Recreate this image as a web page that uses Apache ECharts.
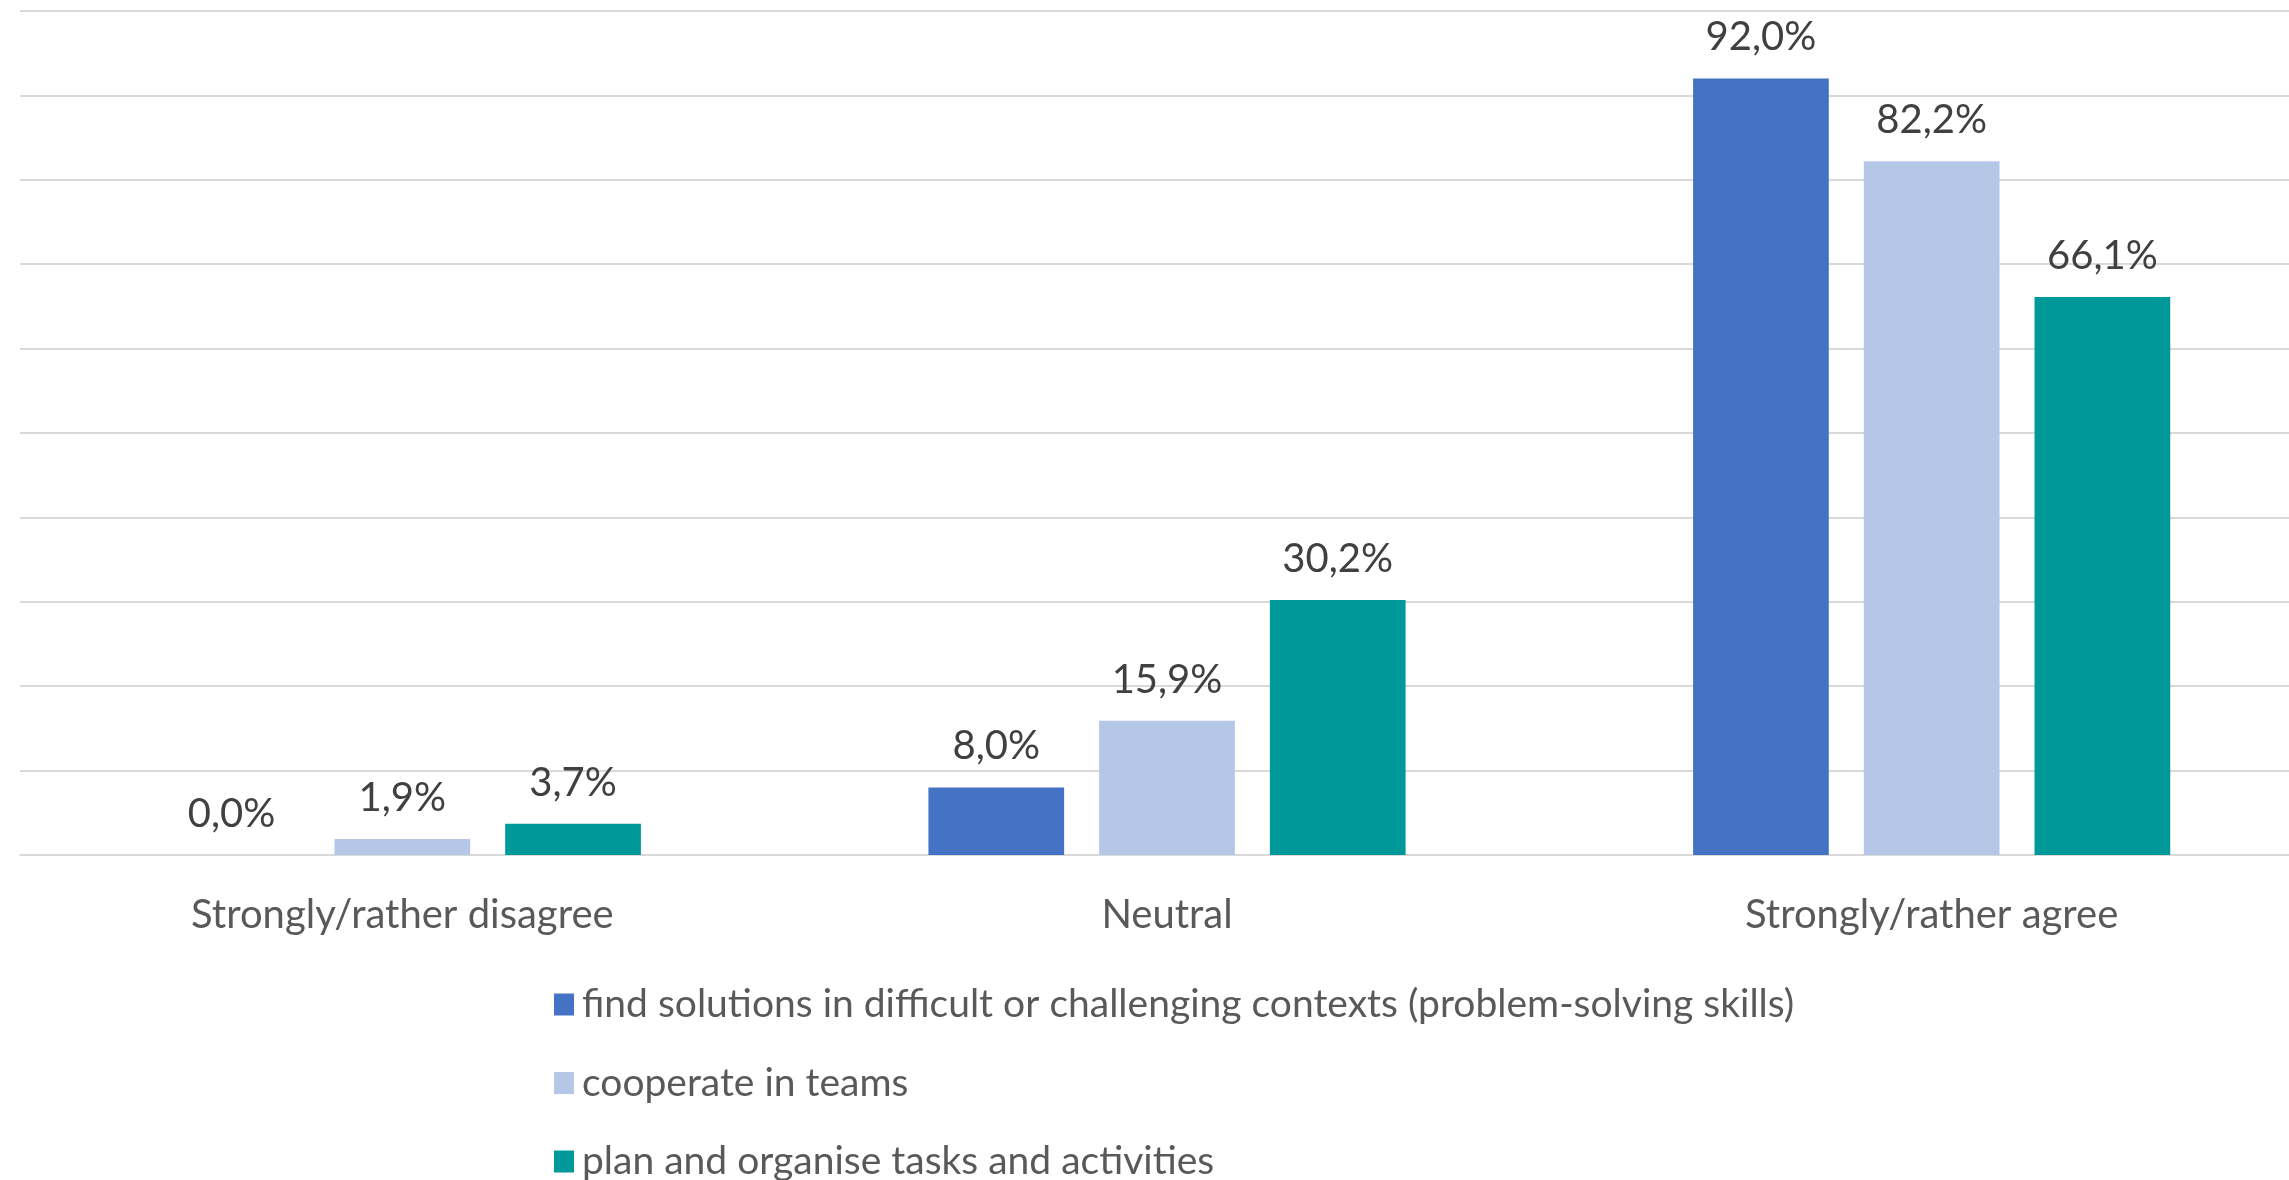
<!DOCTYPE html>
<html>
<head>
<meta charset="utf-8">
<script src="https://cdn.jsdelivr.net/npm/echarts@6/dist/echarts.min.js"></script>
<style>
html,body{margin:0;padding:0;background:#fff;overflow:hidden;}
#chart{width:2314px;height:1180px;}
</style>
</head>
<body>
<div id="chart"></div>
<script>
const categories = ['Strongly/rather disagree', 'Neutral', 'Strongly/rather agree'];
const seriesNames = [
  'find solutions in difficult or challenging contexts (problem-solving skills)',
  'cooperate in teams',
  'plan and organise tasks and activities'
];
const problemSolving = [0.0, 8.0, 92.0];
const cooperate = [1.9, 15.9, 82.2];
const planOrganise = [3.7, 30.2, 66.1];
const seriesColors = ['#4472C4', '#B4C7E7', '#009999'];

const FONT = 'Lato';
const FS = 40;

const chart = echarts.init(document.getElementById('chart'), null, {renderer: 'canvas'});
const valuesList = [problemSolving, cooperate, planOrganise];

chart.setOption({
  animation: false,
  backgroundColor: '#ffffff',
  textStyle: {fontFamily: FONT},
  grid: {left: 20, right: 0, top: 11, bottom: 325, containLabel: false},
  legend: {
    orient: 'vertical',
    left: 554,
    top: 985,
    height: 400,
    padding: 0,
    itemWidth: 20,
    itemHeight: 22,
    itemGap: 39.5,
    icon: 'rect',
    data: seriesNames,
    textStyle: {fontFamily: FONT, fontSize: 39, color: '#595959', padding: [0, 0, 0, 3]}
  },
  xAxis: {
    type: 'category',
    data: categories,
    axisLine: {show: true, lineStyle: {color: '#D9D9D9', width: 2}},
    axisTick: {show: false},
    axisLabel: {fontFamily: FONT, fontSize: FS, color: '#595959', margin: 40, lineHeight: 40}
  },
  yAxis: {
    type: 'value',
    min: 0,
    max: 100,
    interval: 10,
    axisLabel: {show: false},
    axisLine: {show: false},
    axisTick: {show: false},
    splitLine: {show: true, lineStyle: {color: '#D9D9D9', width: 2}}
  },
  series: seriesNames.map((name, i) => ({
    name: name,
    type: 'bar',
    data: valuesList[i],
    barGap: '25.8%',
    barCategoryGap: '37.6%',
    itemStyle: {color: seriesColors[i]},
    label: {
      show: true,
      position: 'top',
      distance: 21,
      fontFamily: FONT,
      fontSize: FS,
      lineHeight: 40,
      color: '#404040',
      formatter: p => p.value.toFixed(1).replace('.', ',') + '%'
    }
  }))
});
</script>
</body>
</html>
